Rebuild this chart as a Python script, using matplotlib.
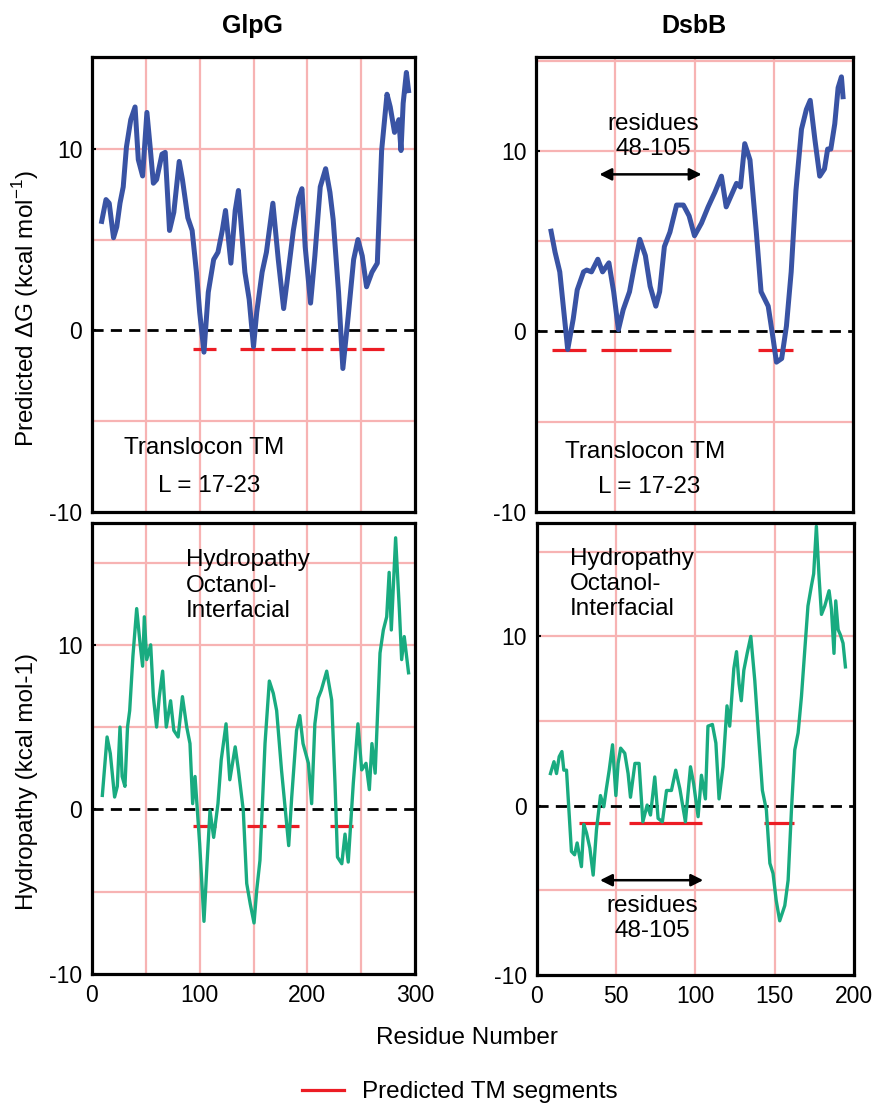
import matplotlib
matplotlib.use("Agg")
import matplotlib.pyplot as plt
from matplotlib.lines import Line2D

plt.rcParams['font.family'] = ['Liberation Sans', 'DejaVu Sans']

# ---------------- data ----------------
glpg_dg_x = [9,13,16,20,23,26,29,32,36,40,43,47,51,54,57,60,65,68,72,76,81,84,89,93,97,100,104,108,113,117,
             121,124,129,133,136,142,146,150,153,158,162,168,173,178,181,187,192,195,198,203,207,212,217,221,224,
             229,233,238,243,247,251,255,260,265,269,274,277,281,285,287,289,292,294]
glpg_dg_y = [6.0,7.2,7.0,5.1,5.7,7.0,7.9,10.1,11.6,12.3,9.4,8.5,12.0,10.1,8.1,8.3,9.7,9.8,5.5,6.5,9.3,8.3,6.2,5.5,
             3.2,1.0,-1.2,2.1,3.9,4.3,5.5,6.6,3.7,6.6,7.7,3.2,1.7,-0.9,1.0,3.2,4.3,7.0,3.9,1.2,2.6,5.5,7.3,7.8,4.6,
             1.5,4.1,7.9,8.9,7.6,6.1,2.1,-2.1,0.8,3.9,5.0,4.1,2.4,3.2,3.7,9.9,13.0,12.3,10.9,11.6,9.9,12.5,14.2,13.2]

dsbb_dg_x = [9.5,12,15,20,23.5,26,30,32,35,39,42,46,49,52,55,59,62,65.5,69,72,75.6,78,81,84.5,88.7,93,96.6,100,
             104.4,108.6,112.8,117,120,123,126.5,129,131.7,135,139,142,146.5,149.6,151.7,155,158,161,164,167.5,
             170.6,173,176,179,182,184,186,188.5,190.6,192.7,193.7]
dsbb_dg_y = [5.55,4.4,3.3,-1.0,0.7,2.3,3.3,3.4,3.3,4.0,3.3,3.8,2.2,0.1,1.2,2.2,3.6,5.1,4.2,2.5,1.4,2.2,4.7,5.5,
             7.0,7.0,6.4,5.3,6.0,6.9,7.7,8.6,6.9,7.5,8.2,8.0,10.4,9.5,5.5,2.2,1.4,-0.4,-1.7,-1.5,0.3,3.3,7.8,11.2,
             12.3,12.8,10.6,8.6,9.0,10.1,10.1,11.5,13.5,14.1,13.0]

glpg_hy_x = [9.6,14,17,21,23.5,26,28,30.6,33,35,38,41.5,44.6,47,48.6,50.8,54.5,57,60,62.5,65.6,69,73,76,80,84,
             88,91,93.5,95.7,100,104,107,109.6,113,117,120,124.5,128,133,136,140.5,143.7,147,150.5,153,156,160.7,
             164.7,168.4,171.5,176,179,182.7,185.5,190,193,196,201,204,207,210,213,218,222.6,225.7,228,232,235,
             238,242.7,247,250.5,254.5,257.6,260,263,267.5,270.6,273.7,276,278,282,285.5,287.6,290,294]
glpg_hy_y = [0.85,4.4,3.4,0.75,1.4,5.0,2.0,1.4,5.0,6.0,9.3,12.2,10.1,8.7,11.7,9.1,10.0,6.85,5.0,6.85,8.4,5.0,6.6,
             4.8,4.4,6.85,5.0,4.0,0.35,2.0,-2.1,-6.8,-3.1,-0.06,-1.7,0.35,3.0,5.2,1.8,3.8,2.4,-0.06,-4.5,-5.75,
             -6.9,-4.9,-3.1,4.0,7.8,7.05,6.0,2.4,0.35,-2.2,0.75,4.8,5.7,4.0,2.8,0.35,5.2,6.75,7.25,8.4,6.65,1.6,
             -2.9,-3.3,-1.5,-3.2,1.6,5.2,2.4,2.8,1.2,4.0,2.2,9.5,10.9,11.7,14.4,10.9,16.5,12.1,9.1,10.5,8.3]

dsbb_hy_x = [8.8,11,12.6,14.3,16,17.2,18.9,22,24,25.6,28.3,29.8,31.5,33.6,35.7,37.8,40.3,42.4,44,45.8,47.9,50,
             51.4,53,55.6,57.7,59.2,62,64.6,67,69.7,71.8,74.5,76.6,79.3,81.9,85,87.7,90.3,93.8,97,99,101.8,103.9,
             106.4,108,110.8,113,115,117.5,120,121.7,124.3,126,127.6,129,130.6,132.7,135,137.5,140.2,142.3,144.8,
             147,149,151,153.2,156.4,158.5,160.6,162.7,164.8,166.9,169,171,173.2,174.6,176.3,178,179.5,181.6,
             184.3,185.8,187.4,188.5,190,191.4,193.1,194.6]
dsbb_hy_y = [1.9,2.6,1.9,2.9,3.2,2.1,2.1,-2.7,-2.9,-2.2,-3.6,-1.1,-1.6,-2.5,-4.1,-1.4,0.6,-0.06,1.0,2.1,3.6,0.6,
             2.5,3.4,3.1,1.9,0.5,2.5,2.5,-0.95,0.04,-0.55,1.7,-0.75,-0.95,0.9,0.9,2.1,1.0,-0.95,2.3,1.3,-0.65,1.8,
             0.4,4.7,4.8,3.7,0.4,2.3,5.9,4.7,8.1,9.1,7.2,6.2,8.0,9.0,10.0,7.4,3.7,0.9,-0.25,-3.4,-4.0,-5.6,-6.8,
             -5.9,-4.4,-0.25,3.3,4.3,6.45,9.2,11.8,13.0,13.7,16.5,13.5,11.3,11.8,12.7,11.6,9.0,12.1,10.4,10.1,9.6,8.2]

# predicted TM segments (start, end residue)
glpg_dg_tm_start = [94, 137.5, 166, 194, 221, 250.5]
glpg_dg_tm_end = [115, 160, 188.5, 215, 245.5, 271]
dsbb_dg_tm_start = [10, 41, 65, 140]
dsbb_dg_tm_end = [31.5, 64, 85, 162]
glpg_hy_tm_start = [94, 143.5, 172, 221.5]
glpg_hy_tm_end = [115, 161.5, 192.5, 242.5]
dsbb_hy_tm_start = [27, 58.4, 143]
dsbb_hy_tm_end = [46.6, 104, 162.5]
tm_level = -1.0

left_xticks = [0, 100, 200, 300]
right_xticks = [0, 50, 100, 150, 200]
yticks = [-10, 0, 10]
grid_x = [50, 100, 150, 200, 250]
grid_y = [-5, 5, 10, 15]

# ---------------- style ----------------
BLUE = '#3953a4'
GREEN = '#19ab80'
RED = '#ec1c24'
PINK = '#f7b3b3'
FS = 17.5
TFS = 16.5

fig = plt.figure(figsize=(8.77, 11.05), dpi=100)
W, H = 877.0, 1105.0


def add_ax(l, r, t, b):
    return fig.add_axes([l / W, 1 - b / H, (r - l) / W, (b - t) / H])


ax_tl = add_ax(92, 415, 57, 512)
ax_tr = add_ax(536, 853, 57, 512)
ax_bl = add_ax(92, 415, 523, 974)
ax_br = add_ax(536.5, 854, 523, 975)

panels = [
    (ax_tl, glpg_dg_x, glpg_dg_y, BLUE, 3.6, glpg_dg_tm_start, glpg_dg_tm_end, (0, 300), (-10, 15.05), left_xticks, False),
    (ax_tr, dsbb_dg_x, dsbb_dg_y, BLUE, 3.6, dsbb_dg_tm_start, dsbb_dg_tm_end, (0, 200), (-10, 15.2), right_xticks, False),
    (ax_bl, glpg_hy_x, glpg_hy_y, GREEN, 2.4, glpg_hy_tm_start, glpg_hy_tm_end, (0, 300), (-10, 17.4), left_xticks, True),
    (ax_br, dsbb_hy_x, dsbb_hy_y, GREEN, 2.4, dsbb_hy_tm_start, dsbb_hy_tm_end, (0, 200), (-10, 16.7), right_xticks, True),
]

for ax, xs, ys, col, lw, s, e, xl, yl, xt, showx in panels:
    ax.set_xlim(*xl)
    ax.set_ylim(*yl)
    for gx in grid_x:
        if xl[0] < gx < xl[1]:
            ax.axvline(gx, color=PINK, lw=1.6, zorder=0)
    for gy in grid_y:
        if yl[0] < gy < yl[1]:
            ax.axhline(gy, color=PINK, lw=1.6, zorder=0)
    ax.axhline(0, color='black', lw=2.0, linestyle=(0, (4.0, 2.6)), zorder=1)
    ax.hlines([tm_level] * len(s), s, e, colors=RED, lw=2.3, zorder=2)
    ax.plot(xs, ys, color=col, lw=lw, zorder=3, solid_joinstyle='round')
    ax.set_yticks(yticks)
    ax.set_yticklabels([str(v) for v in yticks], fontsize=TFS)
    ax.set_xticks(xt)
    if showx:
        ax.set_xticklabels([str(v) for v in xt], fontsize=TFS)
    else:
        ax.set_xticklabels([])
    ax.tick_params(axis='both', direction='in', length=3, width=1.5, pad=7)
    ax.tick_params(axis='x', length=0)
    for sp in ax.spines.values():
        sp.set_linewidth(2.3)
        sp.set_zorder(5)

# titles
fig.text(252 / W, 1 - 26 / H, 'GlpG', fontsize=18, fontweight='bold', ha='center', va='center')
fig.text(694 / W, 1 - 26 / H, 'DsbB', fontsize=18, fontweight='bold', ha='center', va='center')

# y labels
fig.text(26 / W, 1 - 309 / H, 'Predicted ΔG (kcal mol$^{\\mathregular{-1}}$)', fontsize=FS,
         rotation=90, ha='center', va='center')
fig.text(27 / W, 1 - 782 / H, 'Hydropathy (kcal mol-1)', fontsize=FS,
         rotation=90, ha='center', va='center')

# x label
fig.text(467 / W, 1 - 1038 / H, 'Residue Number', fontsize=FS, ha='center', va='center')

# panel annotations
ax_tl.text(104, -6.5, 'Translocon TM', fontsize=FS, ha='center', va='center', zorder=6)
ax_tl.text(108.7, -8.55, 'L = 17-23', fontsize=FS, ha='center', va='center', zorder=6)
ax_tr.text(68.8, -6.7, 'Translocon TM', fontsize=FS, ha='center', va='center', zorder=6)
ax_tr.text(71.4, -8.6, 'L = 17-23', fontsize=FS, ha='center', va='center', zorder=6)

ax_bl.text(87, 13.6, 'Hydropathy\nOctanol-\nInterfacial', fontsize=FS, ha='left', va='center',
           linespacing=1.2, zorder=6)
ax_br.text(21, 13.1, 'Hydropathy\nOctanol-\nInterfacial', fontsize=FS, ha='left', va='center',
           linespacing=1.2, zorder=6)

ax_tr.text(74, 10.8, 'residues\n48-105', fontsize=FS, ha='center', va='center', linespacing=1.2, zorder=6)
ax_tr.annotate('', xy=(40, 8.7), xytext=(104.5, 8.7),
               arrowprops=dict(arrowstyle='<|-|>', color='black', lw=1.8, mutation_scale=18,
                               shrinkA=0, shrinkB=0), zorder=6)
ax_br.text(73, -6.68, 'residues\n48-105', fontsize=FS, ha='center', va='center', linespacing=1.2, zorder=6)
ax_br.annotate('', xy=(40, -4.4), xytext=(105, -4.4),
               arrowprops=dict(arrowstyle='<|-|>', color='black', lw=1.8, mutation_scale=18,
                               shrinkA=0, shrinkB=0), zorder=6)

# legend
fig.legend(handles=[Line2D([], [], color=RED, lw=2.3)], labels=['Predicted TM segments'],
           loc='center', bbox_to_anchor=(460 / W, 1 - 1092 / H), frameon=False, fontsize=FS,
           handlelength=1.7, handletextpad=0.75)

fig.savefig('out.png', dpi=100)
